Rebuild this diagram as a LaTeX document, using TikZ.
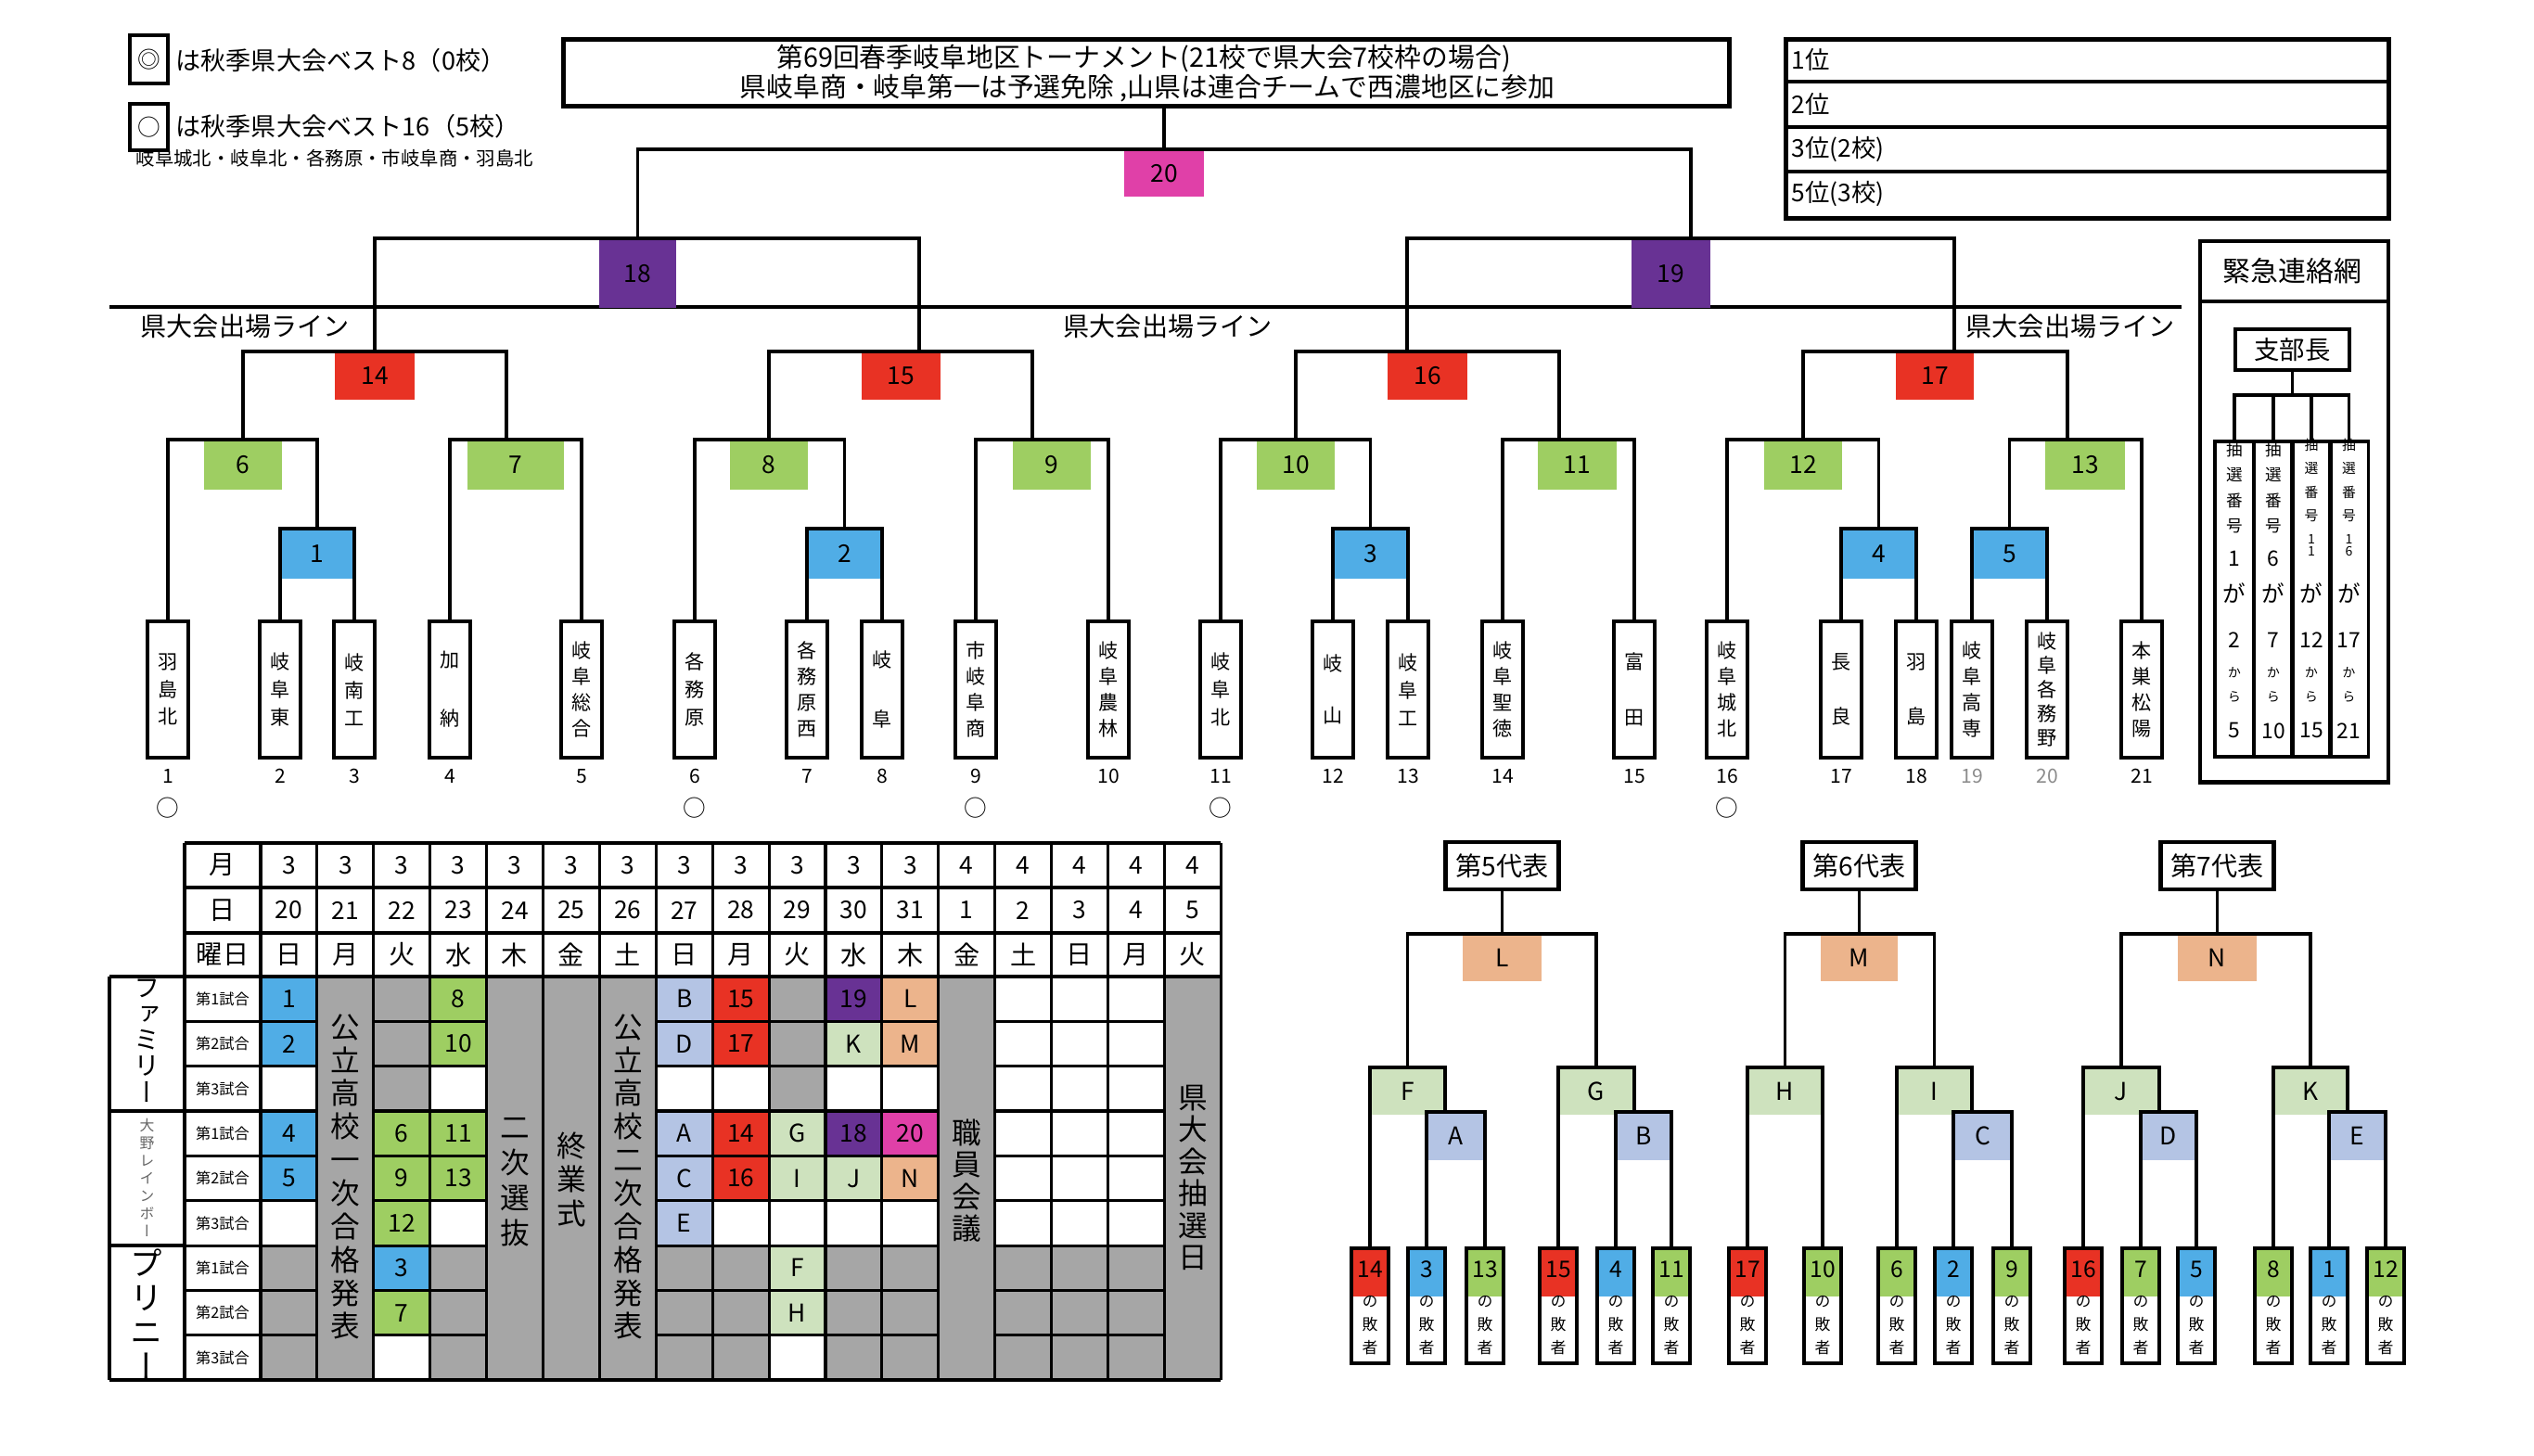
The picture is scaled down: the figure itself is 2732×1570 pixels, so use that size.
\documentclass[tikz,border=0pt]{standalone}
\usepackage{fontspec}
\usepackage{graphicx}
\setmainfont{Noto Sans CJK JP}
\newfontfamily\vjp[RawFeature=+vert]{Noto Sans CJK JP}
\usetikzlibrary{calc}
\definecolor{cblue}{RGB}{80,173,230}
\definecolor{cgreen}{RGB}{158,206,98}
\definecolor{cred}{RGB}{232,50,36}
\definecolor{cpurple}{RGB}{104,50,148}
\definecolor{cmag}{RGB}{224,64,168}
\definecolor{clb}{RGB}{180,196,228}
\definecolor{clg}{RGB}{206,226,190}
\definecolor{corange}{RGB}{236,180,140}
\definecolor{cgray}{RGB}{166,166,166}
\newcommand\myfs[2]{\fontsize{#1}{#2}\selectfont}
\newcommand\cellc[4]{\fill[#3] ({281+60.9*#1},{1053+48.35*#2}) rectangle ({281+60.9*(#1+1)},{1053+48.35*(#2+1)}); \node[cnum] (c#1-#2) at ({281+60.9*(#1+0.5)},{1053+48.35*(#2+0.5)}) {#4};}
\newcommand\cellw[2]{\fill[white] ({281+60.9*#1},{1053+48.35*#2}) rectangle ({281+60.9*(#1+1)},{1053+48.35*(#2+1)});}
\begin{document}
\begin{tikzpicture}[x=0.01cm, y=-0.01cm,
  br/.style={line width=1.1pt},
  tline/.style={line width=0.9pt},
  gbox/.style n args={3}{fill=#1, minimum width=#2, minimum height=#3, inner sep=0pt, anchor=north, font=\myfs{7.5}{8}},
  tbox/.style={draw, line width=1.1pt, fill=white, minimum width=0.44cm, minimum height=1.47cm, inner sep=0pt, anchor=north, align=center},
  tnum/.style={font=\myfs{6}{7}, inner sep=0pt},
  circmark/.style={font=\myfs{7}{8}, inner sep=0pt},
  cnum/.style={font=\myfs{7.5}{8}, inner sep=0pt},
  vtxt/.style={font=\vjp\myfs{9}{10.2}, align=center, inner sep=0pt},
  lbox/.style={draw, line width=1.1pt, fill=white, minimum width=0.40cm, minimum height=1.24cm, inner sep=0pt, anchor=north,
    path picture={\fill[#1] (path picture bounding box.north west) rectangle ([yshift=-0.52cm]path picture bounding box.north east);}},
  lnum/.style={font=\myfs{7}{8}, inner sep=0pt},
  lsub/.style={font=\vjp\myfs{4.8}{7}, align=center, inner sep=0pt},
]
\useasboundingbox (0,0) rectangle (2732,1570);
\fill[white] (0,0) rectangle (2732,1570);

% ---------------- legend ----------------
\node[draw, line width=1.3pt, minimum width=0.41cm, minimum height=0.52cm, inner sep=0pt, font=\myfs{7}{8}] (lg1) at (160.5,64) {◎};
\node[anchor=west, inner sep=0pt, font=\myfs{7.7}{9}] (lg1t) at (189,65) {は秋季県大会ベスト8（0校）};
\node[draw, line width=1.3pt, minimum width=0.41cm, minimum height=0.50cm, inner sep=0pt, font=\myfs{7}{8}] (lg2) at (160.5,137) {○};
\node[anchor=west, inner sep=0pt, font=\myfs{7.7}{9}] (lg2t) at (189,136) {は秋季県大会ベスト16（5校）};
\node[anchor=west, inner sep=0pt, font=\myfs{5.8}{7}] (lg3) at (146,171) {岐阜城北・岐阜北・各務原・市岐阜商・羽島北};

% ---------------- title ----------------
\node[draw, line width=1.5pt, minimum width=12.56cm, minimum height=0.72cm, anchor=north west, inner sep=0pt] (title) at (605,40) {};
\node[inner sep=0pt, font=\myfs{8.2}{9}] (tl1) at (1233,63) {第69回春季岐阜地区トーナメント(21校で県大会7校枠の場合)};
\node[inner sep=0pt, font=\myfs{8.2}{9}] (tl2) at (1237,95) {県岐阜商・岐阜第一は予選免除 ,山県は連合チームで西濃地区に参加};

% ---------------- ranking ----------------
\node[draw, line width=1.3pt, minimum width=6.50cm, minimum height=1.93cm, anchor=north west, inner sep=0pt] (rank) at (1923,40) {};
\draw[line width=1.3pt] (1923,88) -- (2573,88) (1923,137) -- (2573,137) (1923,185) -- (2573,185);
\node[anchor=west, inner sep=0pt, font=\myfs{7.5}{8}] (rk1) at (1931,64) {1位};
\node[anchor=west, inner sep=0pt, font=\myfs{7.5}{8}] (rk2) at (1931,112) {2位};
\node[anchor=west, inner sep=0pt, font=\myfs{7.5}{8}] (rk3) at (1931,161) {3位(2校)};
\node[anchor=west, inner sep=0pt, font=\myfs{7.5}{8}] (rk4) at (1931,209) {5位(3校)};

% ---------------- qualification line ----------------
\coordinate (qlL) at (118,331);
\coordinate (qlR) at (2352,331);
\draw[line width=1.4pt] (qlL) -- (qlR);
\node[anchor=west, inner sep=0pt, font=\myfs{8}{9}] (ql1) at (151,352) {県大会出場ライン};
\node[anchor=west, inner sep=0pt, font=\myfs{8}{9}] (ql2) at (1146,352) {県大会出場ライン};
\node[anchor=west, inner sep=0pt, font=\myfs{8}{9}] (ql3) at (2119,352) {県大会出場ライン};

% ---------------- game boxes ----------------
\node[gbox={cmag}{0.86cm}{0.50cm}] (g20) at (1255,161) {20};
\node[gbox={cpurple}{0.83cm}{0.74cm}] (g18) at (687.5,257) {18};
\node[gbox={cpurple}{0.85cm}{0.74cm}] (g19) at (1801.5,257) {19};
\node[gbox={cred}{0.86cm}{0.51cm}] (g14) at (404,379) {14};
\node[gbox={cred}{0.85cm}{0.51cm}] (g15) at (971.5,379) {15};
\node[gbox={cred}{0.86cm}{0.51cm}] (g16) at (1539,379) {16};
\node[gbox={cred}{0.84cm}{0.51cm}] (g17) at (2086,379) {17};
\node[gbox={cgreen}{0.84cm}{0.53cm}] (g6) at (262,474) {6};
\node[gbox={cgreen}{1.04cm}{0.53cm}] (g7) at (556,474) {7};
\node[gbox={cgreen}{0.84cm}{0.53cm}] (g8) at (829,474) {8};
\node[gbox={cgreen}{0.84cm}{0.53cm}] (g9) at (1134,474) {9};
\node[gbox={cgreen}{0.84cm}{0.53cm}] (g10) at (1397,474) {10};
\node[gbox={cgreen}{0.85cm}{0.53cm}] (g11) at (1700.5,474) {11};
\node[gbox={cgreen}{0.84cm}{0.53cm}] (g12) at (1944,474) {12};
\node[gbox={cgreen}{0.86cm}{0.53cm}] (g13) at (2248,474) {13};
\node[gbox={cblue}{0.80cm}{0.53cm}] (g1) at (342,570) {1};
\node[gbox={cblue}{0.81cm}{0.53cm}] (g2) at (910.5,570) {2};
\node[gbox={cblue}{0.81cm}{0.53cm}] (g3) at (1477.5,570) {3};
\node[gbox={cblue}{0.81cm}{0.53cm}] (g4) at (2025.5,570) {4};
\node[gbox={cblue}{0.81cm}{0.53cm}] (g5) at (2166.5,570) {5};

% ---------------- team boxes ----------------
\node[tbox, font=\vjp\myfs{6}{8.5}] (t1) at (181,668) {羽\\島\\北};
\node[tbox, font=\vjp\myfs{6}{8.5}] (t2) at (302,668) {岐\\阜\\東};
\node[tbox, font=\vjp\myfs{6}{8.5}] (t3) at (382,668) {岐\\南\\工};
\node[tbox, font=\vjp\myfs{6}{18}] (t4) at (485,668) {加\\納};
\node[tbox, font=\vjp\myfs{6}{8}] (t5) at (627,668) {岐\\阜\\総\\合};
\node[tbox, font=\vjp\myfs{6}{8.5}] (t6) at (749,668) {各\\務\\原};
\node[tbox, font=\vjp\myfs{6}{8}] (t7) at (870,668) {各\\務\\原\\西};
\node[tbox, font=\vjp\myfs{6}{18}] (t8) at (951,668) {岐\\阜};
\node[tbox, font=\vjp\myfs{6}{8}] (t9) at (1052,668) {市\\岐\\阜\\商};
\node[tbox, font=\vjp\myfs{6}{8}] (t10) at (1195,668) {岐\\阜\\農\\林};
\node[tbox, font=\vjp\myfs{6}{8.5}] (t11) at (1316,668) {岐\\阜\\北};
\node[tbox, font=\vjp\myfs{6}{16}] (t12) at (1437,668) {岐\\山};
\node[tbox, font=\vjp\myfs{6}{8.5}] (t13) at (1518,668) {岐\\阜\\工};
\node[tbox, font=\vjp\myfs{6}{8}] (t14) at (1620,668) {岐\\阜\\聖\\徳};
\node[tbox, font=\vjp\myfs{6}{17}] (t15) at (1762,668) {富\\田};
\node[tbox, font=\vjp\myfs{6}{8}] (t16) at (1862,668) {岐\\阜\\城\\北};
\node[tbox, font=\vjp\myfs{6}{17}] (t17) at (1985,668) {長\\良};
\node[tbox, font=\vjp\myfs{6}{17}] (t18) at (2066,668) {羽\\島};
\node[tbox, font=\vjp\myfs{6}{8}] (t19) at (2126,668) {岐\\阜\\高\\専};
\node[tbox, font=\vjp\myfs{6}{7.4}] (t20) at (2207,668) {岐\\阜\\各\\務\\野};
\node[tbox, font=\vjp\myfs{6}{8}] (t21) at (2309,668) {本\\巣\\松\\陽};

% team numbers
\foreach \i/\x in {1/181,2/302,3/382,4/485,5/627,6/749,7/870,8/951,9/1052,10/1195,11/1316,12/1437,13/1518,14/1620,15/1762,16/1862,17/1985,18/2066,21/2309}
  \node[tnum] (n\i) at (\x,837) {\i};
\node[tnum, text=black!45] (n19) at (2126,837) {19};
\node[tnum, text=black!45] (n20) at (2207,837) {20};
% circles
\foreach \i/\x in {1/181,6/749,9/1052,11/1316,16/1862}
  \node[circmark] (o\i) at (\x,871) {○};

% ---------------- bracket connectors ----------------
\draw[br] (title.south -| g20.north) -- (g20.north);
\coordinate (j19) at (1823,257);
\draw[br] (g18.north) |- (g20.north) -| (j19);
\coordinate (j15) at (991,379);
\draw[br] (g14.north) |- (g18.north) -| (j15);
\coordinate (j16) at (1517,379);
\coordinate (j17) at (2107,379);
\draw[br] (j16) |- (g19.north) -| (j17);
\coordinate (j7) at (546,474);
\coordinate (j9) at (1113,474);
\coordinate (j11) at (1681,474);
\coordinate (j13) at (2229,474);
\draw[br] (g6.north) |- (g14.north) -| (j7);
\draw[br] (g8.north) |- (g15.north) -| (j9);
\draw[br] (g10.north) |- (g16.north) -| (j11);
\draw[br] (g12.north) |- (g17.north) -| (j13);
\draw[br] (t1.north) |- (g6.north) -| (g1.north);
\draw[br] (t4.north) |- (g7.north) -| (t5.north);
\draw[br] (t6.north) |- (g8.north) -| (g2.north);
\draw[br] (t9.north) |- (g9.north) -| (t10.north);
\draw[br] (t11.north) |- (g10.north) -| (g3.north);
\draw[br] (t14.north) |- (g11.north) -| (t15.north);
\draw[br] (t16.north) |- (g12.north) -| (g4.north);
\draw[br] (g5.north) |- (g13.north) -| (t21.north);
\draw[br] (t2.north) |- (g1.north) -| (t3.north);
\draw[br] (t7.north) |- (g2.north) -| (t8.north);
\draw[br] (t12.north) |- (g3.north) -| (t13.north);
\draw[br] (t17.north) |- (g4.north) -| (t18.north);
\draw[br] (t19.north) |- (g5.north) -| (t20.north);

% ---------------- emergency contact box ----------------
\node[draw, line width=1.2pt, minimum width=2.03cm, minimum height=5.83cm, anchor=north west, inner sep=0pt] (emg) at (2370,258) {};
\draw[line width=1.2pt] (2370,325) -- (2573,325);
\node[inner sep=0pt, font=\myfs{8.5}{9}] (emgt) at (2471.5,292) {緊急連絡網};
\node[draw, line width=1.3pt, minimum width=1.23cm, minimum height=0.44cm, inner sep=0pt, font=\myfs{7.8}{9}] (shibu) at (2471.5,377) {支部長};
\foreach \c/\x in {1/2409,2/2451,3/2492,4/2532.5}
  \node[draw, line width=1.1pt, minimum width=0.42cm, minimum height=3.40cm, anchor=north, inner sep=0pt] (k\c) at (\x,474) {};
\coordinate (hub) at (2471.5,426);
\draw[br] (shibu.south) -- (hub);
\draw[br] (k1.north) |- (hub) -| (k4.north);
\draw[br] (k2.north) -- (k2.north |- hub);
\draw[br] (k3.north) -- (k3.north |- hub);
% column texts
\node[font=\vjp\myfs{5}{7.8}, align=center, inner sep=0pt] (e1a) at (2409,526) {抽\\選\\番\\号};
\node[font=\vjp\myfs{5}{7.8}, align=center, inner sep=0pt] (e2a) at (2451,526) {抽\\選\\番\\号};
\node[font=\vjp\myfs{4.2}{7.2}, align=center, inner sep=0pt] (e3a) at (2492,518) {抽\\選\\番\\号};
\node[font=\vjp\myfs{4.2}{7.2}, align=center, inner sep=0pt] (e4a) at (2532.5,518) {抽\\選\\番\\号};
\node[font=\myfs{6.5}{7}, inner sep=0pt] (e1b) at (2409,602) {1};
\node[font=\myfs{6.5}{7}, inner sep=0pt] (e2b) at (2451,602) {6};
\node[font=\myfs{4}{3.8}, align=center, inner sep=0pt] (e3b) at (2492,588) {1\\1};
\node[font=\myfs{4}{3.8}, align=center, inner sep=0pt] (e4b) at (2532.5,588) {1\\6};
\foreach \c/\x/\b/\e in {1/2409/2/5,2/2451/7/10,3/2492/12/15,4/2532.5/17/21}{
  \node[font=\myfs{7}{8}, inner sep=0pt] (e\c c) at (\x,640) {が};
  \node[font=\myfs{6.5}{7}, inner sep=0pt] (e\c d) at (\x,690) {\b};
  \node[font=\vjp\myfs{4}{7.4}, align=center, inner sep=0pt] (e\c e) at (\x,738) {か\\ら};
  \node[font=\myfs{6.5}{7}, inner sep=0pt] (e\c f) at (\x,788) {\e};
}

% ---------------- schedule table ----------------
\fill[cgray] (281,1053) rectangle (1316.3,1488.2);
% white cells
\cellw{0}{2}\cellw{0}{5}\cellw{2}{8}\cellw{3}{2}\cellw{3}{5}\cellw{7}{2}
\cellw{8}{2}\cellw{8}{5}\cellw{9}{5}\cellw{9}{8}\cellw{10}{2}\cellw{10}{5}\cellw{11}{2}\cellw{11}{5}
\foreach \k in {13,14,15}{\foreach \r in {0,...,5}{\cellw{\k}{\r}}}
% coloured cells
\cellc{0}{0}{cblue}{1}\cellc{0}{1}{cblue}{2}\cellc{0}{3}{cblue}{4}\cellc{0}{4}{cblue}{5}
\cellc{2}{3}{cgreen}{6}\cellc{2}{4}{cgreen}{9}\cellc{2}{5}{cgreen}{12}\cellc{2}{6}{cblue}{3}\cellc{2}{7}{cgreen}{7}
\cellc{3}{0}{cgreen}{8}\cellc{3}{1}{cgreen}{10}\cellc{3}{3}{cgreen}{11}\cellc{3}{4}{cgreen}{13}
\cellc{7}{0}{clb}{B}\cellc{7}{1}{clb}{D}\cellc{7}{3}{clb}{A}\cellc{7}{4}{clb}{C}\cellc{7}{5}{clb}{E}
\cellc{8}{0}{cred}{15}\cellc{8}{1}{cred}{17}\cellc{8}{3}{cred}{14}\cellc{8}{4}{cred}{16}
\cellc{9}{3}{clg}{G}\cellc{9}{4}{clg}{I}\cellc{9}{6}{clg}{F}\cellc{9}{7}{clg}{H}
\cellc{10}{0}{cpurple}{19}\cellc{10}{1}{clg}{K}\cellc{10}{3}{cpurple}{18}\cellc{10}{4}{clg}{J}
\cellc{11}{0}{corange}{L}\cellc{11}{1}{corange}{M}\cellc{11}{3}{cmag}{20}\cellc{11}{4}{corange}{N}
% header
\foreach \k/\m/\d/\w in {0/3/20/日,1/3/21/月,2/3/22/火,3/3/23/水,4/3/24/木,5/3/25/金,6/3/26/土,7/3/27/日,8/3/28/月,9/3/29/火,10/3/30/水,11/3/31/木,12/4/1/金,13/4/2/土,14/4/3/日,15/4/4/月,16/4/5/火}{
  \node[cnum] (mo\k) at ({311.45+60.9*\k},933) {\m};
  \node[cnum] (da\k) at ({311.45+60.9*\k},981.5) {\d};
  \node[cnum, font=\myfs{8}{9}] (wd\k) at ({311.45+60.9*\k},1029.5) {\w};
}
\node[cnum, font=\myfs{8}{9}] (hm) at (240,933) {月};
\node[cnum, font=\myfs{8}{9}] (hd) at (240,981.5) {日};
\node[cnum, font=\myfs{8}{9}] (hw) at (240,1029.5) {曜日};
\foreach \r/\t in {0/1,1/2,2/3,3/1,4/2,5/3,6/1,7/2,8/3}
  \node[inner sep=0pt, font=\myfs{4.6}{5}] (ml\r) at (240,{1053+48.35*(\r+0.5)}) {第\t 試合};
% grid
\foreach \k in {0,...,17}
  \draw[tline] ({281+60.9*\k},909) -- ({281+60.9*\k},1488.2);
\draw[tline] (199,909) -- (199,1488.2);
\draw[tline] (118,1053) -- (118,1488.2);
\draw[tline] (199,909) -- (1316.3,909) (199,957) -- (1316.3,957) (199,1006) -- (1316.3,1006);
\draw[line width=1.1pt] (118,1053) -- (1316.3,1053) (118,1488.2) -- (1316.3,1488.2);
\foreach \r in {1,...,8}
  \draw[tline] (199,{1053+48.35*\r}) -- (341.9,{1053+48.35*\r})
               (402.8,{1053+48.35*\r}) -- (524.6,{1053+48.35*\r})
               (707.3,{1053+48.35*\r}) -- (1011.8,{1053+48.35*\r})
               (1072.7,{1053+48.35*\r}) -- (1255.4,{1053+48.35*\r});
\draw[line width=1.1pt] (118,1198.05) -- (199,1198.05) (118,1343.1) -- (199,1343.1);
% merged column texts
\node[vtxt] (vx1) at (372.35,1269) {公\\立\\高\\校\\一\\次\\合\\格\\発\\表};
\node[vtxt] (vx6) at (676.85,1269) {公\\立\\高\\校\\二\\次\\合\\格\\発\\表};
\node[vtxt, font=\vjp\myfs{9}{10.8}] (vx4) at (555.05,1275) {二\\次\\選\\抜};
\node[vtxt, font=\vjp\myfs{9}{10.5}] (vx5) at (615.95,1272) {終\\業\\式};
\node[vtxt, font=\vjp\myfs{9}{9.8}] (vx12) at (1042.25,1273) {職\\員\\会\\議};
\node[vtxt, font=\vjp\myfs{9}{9.8}] (vx16) at (1285.85,1270) {県\\大\\会\\抽\\選\\日};
% venue labels
\node[vtxt, font=\vjp\myfs{8}{8}] (vn1) at (158.5,1122) {フ\\ァ\\ミ\\リ\\ー};
\node[vtxt, font=\vjp\myfs{4.5}{5.4}, text=black!60] (vn2) at (158.5,1270) {大\\野\\レ\\イ\\ン\\ボ\\ー};
\node[vtxt, font=\vjp\myfs{10}{10.5}] (vn3) at (158.5,1417) {プ\\リ\\ニ\\ー};

% ---------------- consolation brackets ----------------
\node[draw, line width=1.2pt, minimum width=1.22cm, minimum height=0.51cm, inner sep=0pt, font=\myfs{8}{9}] (rep5) at (1619.5,933.5) {第5代表};
\node[draw, line width=1.2pt, minimum width=1.22cm, minimum height=0.51cm, inner sep=0pt, font=\myfs{8}{9}] (rep6) at (2004.5,933.5) {第6代表};
\node[draw, line width=1.2pt, minimum width=1.22cm, minimum height=0.51cm, inner sep=0pt, font=\myfs{8}{9}] (rep7) at (2390.5,933.5) {第7代表};
\node[gbox={corange}{0.85cm}{0.50cm}] (cL) at (1619.5,1007) {L};
\node[gbox={corange}{0.83cm}{0.50cm}] (cM) at (2004.5,1007) {M};
\node[gbox={corange}{0.85cm}{0.50cm}] (cN) at (2390.5,1007) {N};
\node[gbox={clg}{0.81cm}{0.50cm}] (cF) at (1517.5,1151) {F};
\node[gbox={clg}{0.82cm}{0.50cm}] (cG) at (1721,1151) {G};
\node[gbox={clg}{0.81cm}{0.50cm}] (cH) at (1924.5,1151) {H};
\node[gbox={clg}{0.81cm}{0.50cm}] (cI) at (2085.5,1151) {I};
\node[gbox={clg}{0.82cm}{0.50cm}] (cJ) at (2287,1151) {J};
\node[gbox={clg}{0.80cm}{0.50cm}] (cK) at (2491,1151) {K};
\node[gbox={clb}{0.63cm}{0.51cm}] (cA) at (1569.5,1199) {A};
\node[gbox={clb}{0.60cm}{0.51cm}] (cB) at (1772,1199) {B};
\node[gbox={clb}{0.63cm}{0.51cm}] (cC) at (2137.5,1199) {C};
\node[gbox={clb}{0.60cm}{0.51cm}] (cD) at (2338,1199) {D};
\node[gbox={clb}{0.61cm}{0.51cm}] (cE) at (2541.5,1199) {E};
% loser boxes
\foreach \i/\x/\c in {14/1477/cred,3/1538/cblue,13/1601/cgreen,15/1680/cred,4/1742/cblue,11/1802/cgreen,17/1884/cred,10/1965/cgreen,6/2045/cgreen,2/2106/cblue,9/2169/cgreen,16/2246/cred,7/2308/cgreen,5/2368/cblue,8/2451/cgreen,1/2511/cblue,12/2572/cgreen}{
  \node[lbox=\c] (l\i) at (\x,1344) {};
  \node[lnum] (ln\i) at (\x,1369) {\i};
  \node[lsub] (ls\i) at (\x,1429) {の\\敗\\者};
}
% consolation connectors
\draw[br] (rep5.south) -- (cL.north);
\draw[br] (rep6.south) -- (cM.north);
\draw[br] (rep7.south) -- (cN.north);
\draw[br] (cF.north) |- (cL.north) -| (cG.north);
\draw[br] (cH.north) |- (cM.north) -| (cI.north);
\draw[br] (cJ.north) |- (cN.north) -| (cK.north);
\coordinate (jA) at (1558,1199);
\coordinate (jB) at (1762,1199);
\coordinate (jC) at (2126,1199);
\coordinate (jD) at (2328,1199);
\coordinate (jE) at (2531,1199);
\draw[br] (l14.north) |- (cF.north) -| (jA);
\draw[br] (l3.north) |- (cA.north) -| (l13.north);
\draw[br] (l15.north) |- (cG.north) -| (jB);
\draw[br] (l4.north) |- (cB.north) -| (l11.north);
\draw[br] (l17.north) |- (cH.north) -| (l10.north);
\draw[br] (l6.north) |- (cI.north) -| (jC);
\draw[br] (l2.north) |- (cC.north) -| (l9.north);
\draw[br] (l16.north) |- (cJ.north) -| (jD);
\draw[br] (l7.north) |- (cD.north) -| (l5.north);
\draw[br] (l8.north) |- (cK.north) -| (jE);
\draw[br] (l1.north) |- (cE.north) -| (l12.north);
\end{tikzpicture}
\end{document}
